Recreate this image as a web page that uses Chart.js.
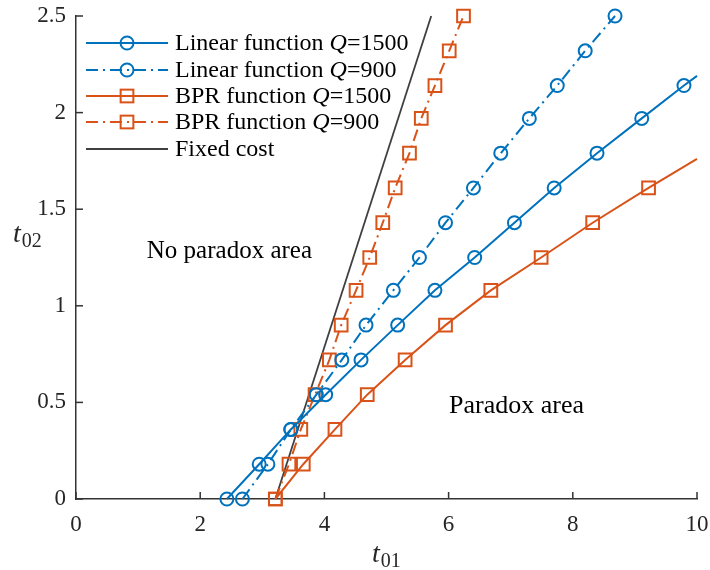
<!DOCTYPE html>
<html><head><meta charset="utf-8">
<script src="https://cdn.jsdelivr.net/npm/chart.js@4/dist/chart.umd.min.js"></script>
<style>html,body{margin:0;padding:0;background:#fff}</style>
</head><body>
<canvas id="c" width="710" height="570"></canvas>
<script>
// ---- data ----
const linearQ1500X = [2.43, 2.95, 3.46, 4.02, 4.59, 5.18, 5.78, 6.42, 7.06, 7.70, 8.39, 9.11, 9.79, 10.0];
const linearQ1500Y = [0, 0.18, 0.36, 0.54, 0.72, 0.90, 1.08, 1.25, 1.43, 1.61, 1.79, 1.97, 2.14, 2.19];
const linearQ900X  = [2.68, 3.09, 3.46, 3.87, 4.28, 4.67, 5.11, 5.53, 5.95, 6.40, 6.84, 7.30, 7.75, 8.20, 8.68];
const linearQ900Y  = [0, 0.18, 0.36, 0.54, 0.72, 0.90, 1.08, 1.25, 1.43, 1.61, 1.79, 1.97, 2.14, 2.32, 2.50];
const bprQ1500X    = [3.21, 3.66, 4.17, 4.69, 5.30, 5.95, 6.68, 7.49, 8.32, 9.22, 10.0];
const bprQ1500Y    = [0, 0.18, 0.36, 0.54, 0.72, 0.90, 1.08, 1.25, 1.43, 1.61, 1.76];
const bprQ900X     = [3.21, 3.43, 3.62, 3.85, 4.08, 4.27, 4.51, 4.73, 4.94, 5.14, 5.37, 5.56, 5.78, 6.01, 6.24];
const bprQ900Y     = [0, 0.18, 0.36, 0.54, 0.72, 0.90, 1.08, 1.25, 1.43, 1.61, 1.79, 1.97, 2.14, 2.32, 2.50];
const fixedCostX   = [3.21, 5.72];
const fixedCostY   = [0, 2.5];
// markers only on measured points (last point of solid curves is the clip at x=10)
const linearQ1500Markers = 13;
const bprQ1500Markers = 10;

const xTicks = [0, 2, 4, 6, 8, 10];
const xTickLabels = ["0", "2", "4", "6", "8", "10"];
const yTicks = [0, 0.5, 1, 1.5, 2, 2.5];
const yTickLabels = ["0", "0.5", "1", "1.5", "2", "2.5"];

const seriesNames = ["Linear function ", "Linear function ", "BPR function ", "BPR function ", "Fixed cost"];
const seriesQ = ["1500", "900", "1500", "900", null];

// ---- styling ----
const BLUE = '#0072BD', ORANGE = '#D95319', DARK = '#404040', AXIS = '#333333';
const FONT = '"Liberation Serif", "Times New Roman", serif';
const DASHDOT = [12, 5, 2, 5];

function pts(xs, ys) { return xs.map((x, i) => ({x: x, y: ys[i]})); }
function radii(n, total, r) { return Array.from({length: total}, (_, i) => i < n ? r : 0); }

const CIRCLE_R = 6.5, RECT_R = 9;

const datasets = [
  {data: pts(linearQ1500X, linearQ1500Y), borderColor: BLUE, borderWidth: 2, pointStyle: 'circle',
   pointRadius: radii(linearQ1500Markers, linearQ1500X.length, CIRCLE_R), pointBorderColor: BLUE, pointBorderWidth: 2},
  {data: pts(linearQ900X, linearQ900Y), borderColor: BLUE, borderWidth: 2, borderDash: DASHDOT, pointStyle: 'circle',
   pointRadius: CIRCLE_R, pointBorderColor: BLUE, pointBorderWidth: 2},
  {data: pts(bprQ1500X, bprQ1500Y), borderColor: ORANGE, borderWidth: 2, pointStyle: 'rect',
   pointRadius: radii(bprQ1500Markers, bprQ1500X.length, RECT_R), pointBorderColor: ORANGE, pointBorderWidth: 2},
  {data: pts(bprQ900X, bprQ900Y), borderColor: ORANGE, borderWidth: 2, borderDash: DASHDOT, pointStyle: 'rect',
   pointRadius: RECT_R, pointBorderColor: ORANGE, pointBorderWidth: 2},
  {data: pts(fixedCostX, fixedCostY), borderColor: DARK, borderWidth: 1.8, pointRadius: 0}
].map(d => Object.assign({showLine: true, fill: false, tension: 0, clip: false,
  pointBackgroundColor: 'rgba(0,0,0,0)', pointHoverRadius: 0}, d));

const styles = [
  {color: BLUE, dash: [], marker: 'circle'},
  {color: BLUE, dash: DASHDOT, marker: 'circle'},
  {color: ORANGE, dash: [], marker: 'rect'},
  {color: ORANGE, dash: DASHDOT, marker: 'rect'},
  {color: DARK, dash: [], marker: null}
];

function zeroPad(s) { s.paddingTop = 0; s.paddingBottom = 0; s.paddingLeft = 0; s.paddingRight = 0; }

const decor = {
  id: 'decor',
  afterDraw(chart) {
    const ctx = chart.ctx, xs = chart.scales.x, ys = chart.scales.y, a = chart.chartArea;
    ctx.save();
    // inward ticks
    ctx.strokeStyle = AXIS; ctx.lineWidth = 1.5; ctx.setLineDash([]);
    xTicks.forEach(v => { const px = xs.getPixelForValue(v); ctx.beginPath(); ctx.moveTo(px, a.bottom); ctx.lineTo(px, a.bottom - 7); ctx.stroke(); });
    yTicks.forEach(v => { const py = ys.getPixelForValue(v); ctx.beginPath(); ctx.moveTo(a.left, py); ctx.lineTo(a.left + 7, py); ctx.stroke(); });

    // legend
    const rowsY = [43, 70, 96, 122, 149];
    styles.forEach((s, i) => {
      const y = rowsY[i];
      ctx.strokeStyle = s.color; ctx.lineWidth = (i === 4 ? 1.8 : 2); ctx.setLineDash(s.dash);
      ctx.beginPath(); ctx.moveTo(86, y); ctx.lineTo(168, y); ctx.stroke();
      ctx.setLineDash([]);
      if (s.marker === 'circle') { ctx.beginPath(); ctx.arc(127, y, CIRCLE_R, 0, Math.PI * 2); ctx.stroke(); }
      if (s.marker === 'rect') { const h = RECT_R * Math.SQRT1_2; ctx.strokeRect(127 - h, y - h, 2 * h, 2 * h); }
      ctx.fillStyle = '#000'; ctx.textBaseline = 'middle'; ctx.textAlign = 'left';
      let x = 175;
      ctx.font = '24px ' + FONT;
      ctx.fillText(seriesNames[i], x, y + 1); x += ctx.measureText(seriesNames[i]).width;
      if (seriesQ[i]) {
        ctx.font = 'italic 24px ' + FONT;
        ctx.fillText('Q', x, y + 1); x += ctx.measureText('Q').width;
        ctx.font = '24px ' + FONT;
        ctx.fillText('=' + seriesQ[i], x, y + 1);
      }
    });

    // annotations
    ctx.fillStyle = '#000'; ctx.textBaseline = 'alphabetic';
    ctx.font = '25px ' + FONT;
    ctx.textAlign = 'right';
    ctx.fillText('No paradox area', 312, 258);
    ctx.textAlign = 'left';
    ctx.font = '26px ' + FONT;
    ctx.fillText('Paradox area', 449, 413);

    // axis titles
    function sub(main, s, x, y) {
      ctx.font = 'italic 28px ' + FONT; ctx.fillStyle = '#262626';
      ctx.fillText(main, x, y);
      const w = ctx.measureText(main).width;
      ctx.font = '20px ' + FONT;
      ctx.fillText(s, x + w + 1, y + 5);
    }
    sub('t', '01', 372, 562);
    sub('t', '02', 13, 242);
    ctx.restore();
  }
};

new Chart(document.getElementById('c'), {
  type: 'scatter',
  data: {datasets: datasets},
  options: {
    responsive: false, animation: false, devicePixelRatio: 1,
    layout: {padding: {top: 16, right: 13, left: 0, bottom: 0}},
    plugins: {legend: {display: false}, tooltip: {enabled: false}},
    scales: {
      x: {type: 'linear', min: 0, max: 10,
          afterFit: s => { s.height = 71; zeroPad(s); },
          afterBuildTicks: s => { s.ticks = xTicks.map(v => ({value: v})); },
          ticks: {callback: (v) => xTickLabels[xTicks.indexOf(v)], color: '#262626', font: {family: FONT, size: 23}, padding: 12, maxRotation: 0},
          grid: {display: false, drawTicks: false},
          border: {display: true, color: AXIS, width: 1.5}},
      y: {type: 'linear', min: 0, max: 2.5,
          afterFit: s => { s.width = 76; zeroPad(s); },
          afterBuildTicks: s => { s.ticks = yTicks.map(v => ({value: v})); },
          ticks: {callback: (v) => yTickLabels[yTicks.indexOf(v)], color: '#262626', font: {family: FONT, size: 23}, padding: 10},
          grid: {display: false, drawTicks: false},
          border: {display: true, color: AXIS, width: 1.5}}
    }
  },
  plugins: [decor]
});
</script>
</body></html>
